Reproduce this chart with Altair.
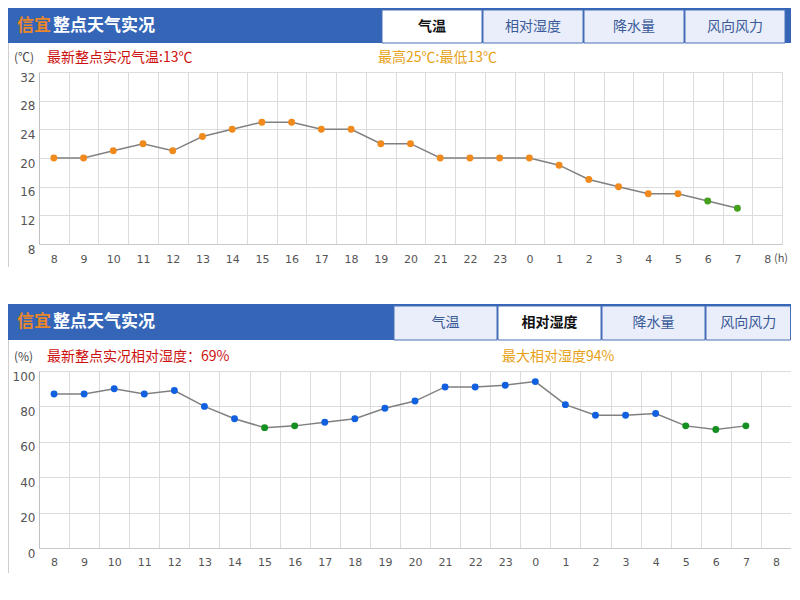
import json
import altair as alt
import pandas as pd

# ---------------- data ----------------
hour_labels = ["8", "9", "10", "11", "12", "13", "14", "15", "16", "17", "18", "19",
               "20", "21", "22", "23", "0", "1", "2", "3", "4", "5", "6", "7", "8"]
temperature = [20, 20, 21, 22, 21, 23, 24, 25, 25, 24, 24, 22,
               22, 20, 20, 20, 20, 19, 17, 16, 15, 15, 14, 13]
temp_status = ["a", "a", "a", "a", "a", "a", "a", "a", "a", "a", "a", "a",
               "a", "a", "a", "a", "a", "a", "a", "a", "a", "a", "b", "b"]
humidity = [87, 87, 90, 87, 89, 80, 73, 68, 69, 71, 73, 79,
            83, 91, 91, 92, 94, 81, 75, 75, 76, 69, 67, 69]
hum_status = ["a", "a", "a", "a", "a", "a", "a", "b", "b", "a", "a", "a",
              "a", "a", "a", "a", "a", "a", "a", "a", "a", "b", "b", "b"]
temp_ticks = [8, 12, 16, 20, 24, 28, 32]
hum_ticks = [0, 20, 40, 60, 80, 100]

city = "信宜"
title_rest = "整点天气实况"
tabs = ["气温", "相对湿度", "降水量", "风向风力"]
temp_unit = "(℃)"
hum_unit = "(%)"
temp_latest = "最新整点实况气温:13℃"
temp_range = "最高25℃:最低13℃"
hum_latest = "最新整点实况相对湿度：69%"
hum_max = "最大相对湿度94%"
hour_unit = "(h)"

CJK = "Noto Sans CJK SC"
HEADER_BLUE = "#3465b7"
RIGHT = 752  # right edge of everything, in plot coordinates


def one(text):
    return alt.Chart(pd.DataFrame({"t": [text]}))


def label(text, x, y, color, size=14, weight="normal", align="left"):
    return one(text).mark_text(
        align=align, baseline="middle", font=CJK, fontSize=size,
        fontWeight=weight, color=color
    ).encode(text="t:N", x=alt.value(x), y=alt.value(y))


def box(x, x2, y, y2, fill, stroke=None):
    kw = dict(fill=fill)
    if stroke:
        kw.update(stroke=stroke, strokeWidth=1)
    return one("").mark_rect(**kw).encode(
        x=alt.value(x), x2=alt.value(x2), y=alt.value(y), y2=alt.value(y2))


def panel(values, status, ticks, point_color, width, height, hdr_top, hdr_bot,
          tab_x0, tab_w, active, unit, latest, extra, extra_x, border_bottom,
          xlab_pad):
    df = pd.DataFrame({
        "idx": list(range(len(values))),
        "v": values,
        "status": status,
    })
    x = alt.X("idx:O",
              scale=alt.Scale(domain=list(range(len(hour_labels))),
                              paddingInner=0, paddingOuter=0),
              axis=alt.Axis(title=None,
                            labelExpr=json.dumps(hour_labels) + "[datum.value]",
                            labelAngle=0, tickBand="extent", grid=True,
                            gridColor="#dcdcdc", ticks=False,
                            domainColor="#c8c8c8", labelColor="#555555",
                            labelFont="DejaVu Sans", labelFontSize=11,
                            labelPadding=xlab_pad, labelOverlap=False))
    y = alt.Y("v:Q",
              scale=alt.Scale(domain=[ticks[0], ticks[-1]], nice=False, zero=False),
              axis=alt.Axis(title=None, values=ticks, grid=True,
                            gridColor="#dcdcdc", ticks=False,
                            domainColor="#c0c0c0", labelColor="#555555",
                            labelFont="DejaVu Sans", labelFontSize=12,
                            labelPadding=4, labelOffset=5, labelFlush=False))
    base = alt.Chart(df)
    line = base.mark_line(color="#808080", strokeWidth=1.5).encode(x=x, y=y)
    pts = base.mark_circle(size=48, opacity=1).encode(
        x=x, y=y,
        color=alt.Color("status:N",
                        scale=alt.Scale(domain=["a", "b"], range=point_color),
                        legend=None))

    mid = (hdr_top + hdr_bot) / 2
    layers = [line, pts]
    # header bar
    layers.append(box(-31, RIGHT, hdr_top, hdr_bot, HEADER_BLUE))
    for i, t in enumerate(tabs):
        x0 = tab_x0 + i * (tab_w + 1)
        x1 = min(x0 + tab_w, RIGHT - 0.5)
        is_active = i == active
        layers.append(box(x0, x1, hdr_top + 2, hdr_bot,
                          "#ffffff" if is_active else "#e9eefa", "#4a70b8"))
        layers.append(label(t, (x0 + x1) / 2, mid + 1,
                            "#111111" if is_active else "#3a5a98",
                            size=14, weight="bold" if is_active else "normal",
                            align="center"))
    layers.append(label(city, -22, mid, "#e8862a", size=17, weight="bold"))
    layers.append(label(title_rest, 14, mid, "#ffffff", size=17, weight="bold"))
    # left border of the panel
    layers.append(one("").mark_rule(color="#cfcfcf").encode(
        x=alt.value(-30.5), y=alt.value(hdr_bot), y2=alt.value(border_bottom)))
    # subtitle line
    layers.append(label(unit, -25, -14, "#444444", size=12))
    layers.append(label(latest, 8, -14, "#cc1111", size=14))
    layers.append(label(extra, extra_x, -14, "#e6a117", size=14))
    return alt.layer(*layers).properties(width=width, height=height)


top = panel(temperature, temp_status, temp_ticks, ["#f08a1c", "#45a01e"],
            743, 172, -64, -29, 343, 100, 0, temp_unit, temp_latest, temp_range,
            339, 195, 9)
top = alt.layer(top, label(hour_unit, 742, 186.5, "#555555", size=11, align="center"))

bottom = panel(humidity, hum_status, hum_ticks, ["#1060e0", "#139020"],
               RIGHT, 177, -67, -31, 355, 103, 1, hum_unit, hum_latest, hum_max, 463,
               202, 8.5)

chart = alt.vconcat(top, bottom, spacing=127, bounds="flush").resolve_scale(
    color="independent"
).properties(
    padding=0, background="#ffffff"
).configure_view(stroke=None)

chart.save("out.html", embed_options={"renderer": "svg", "actions": False})
